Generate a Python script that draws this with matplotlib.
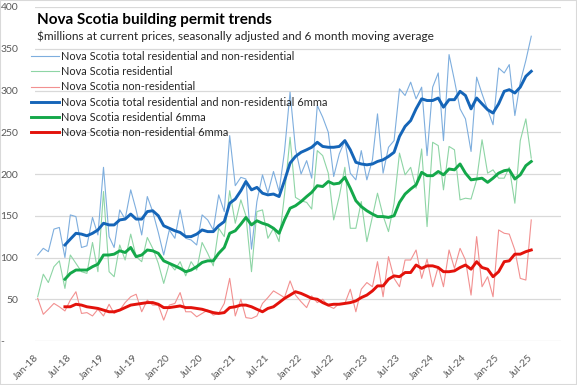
import numpy as np
import pandas as pd
import matplotlib
matplotlib.use("Agg")
import matplotlib.pyplot as plt
import matplotlib.dates as mdates
from matplotlib.patches import Rectangle

plt.rcParams['font.family'] = ['Lato', 'DejaVu Sans']

# monthly, Jan-2018 .. Jul-2025, $ millions
months = pd.date_range('2018-01-01', '2025-07-01', freq='MS')

total = [103, 111, 107, 134, 136, 100, 151, 149, 112, 114,
         148, 127, 208, 125, 112, 157, 146, 181, 157, 127,
         173, 155, 130, 103, 133, 123, 157, 123, 121, 115,
         151, 145, 133, 175, 155, 246, 186, 196, 194, 110,
         167, 199, 177, 203, 179, 227, 298, 230, 200, 216,
         195, 282, 268, 250, 197, 224, 240, 201, 193, 228,
         193, 217, 272, 201, 232, 240, 302, 294, 310, 290,
         304, 222, 304, 321, 240, 343, 312, 278, 266, 227,
         316, 296, 277, 259, 327, 321, 331, 270, 310, 336,
         365]

residential = [53, 80, 70, 89, 96, 63, 103, 93, 83, 81,
               118, 83, 179, 83, 77, 115, 97, 128, 101, 95,
               124, 111, 93, 69, 93, 85, 95, 78, 95, 85,
               118, 105, 90, 135, 125, 180, 141, 169, 150, 83,
               155, 157, 123, 135, 119, 175, 244, 172, 168, 166,
               158, 228, 222, 201, 145, 173, 208, 135, 135, 167,
               119, 149, 177, 150, 131, 165, 225, 199, 208, 183,
               230, 137, 238, 234, 181, 233, 229, 169, 171, 170,
               193, 241, 201, 205, 195, 195, 208, 165, 240, 266,
               219]

non_residential = [51, 32, 38, 45, 41, 36, 49, 59, 33, 34,
                   30, 38, 30, 44, 33, 37, 46, 53, 56, 35,
                   49, 43, 43, 25, 43, 45, 58, 35, 35, 29,
                   33, 37, 31, 33, 45, 75, 30, 50, 28, 27,
                   30, 45, 52, 60, 56, 52, 72, 55, 47, 40,
                   54, 46, 50, 42, 39, 45, 45, 62, 35, 62,
                   70, 65, 95, 53, 101, 75, 65, 97, 97, 109,
                   75, 98, 65, 89, 65, 109, 87, 111, 97, 55,
                   125, 65, 77, 53, 133, 129, 128, 109, 75, 73,
                   145]

# 6 month moving averages, first value at Jun-18
total_6mma = [np.nan] * 5 + [
    115, 122, 129, 128, 126,
    129, 133, 141, 139, 139, 145, 146, 152, 146, 146,
    155, 156, 150, 138, 135, 132, 130, 125, 125, 128,
    133, 131, 131, 138, 143, 165, 170, 180, 191, 181,
    184, 177, 175, 176, 173, 192, 213, 221, 226, 229,
    232, 238, 233, 232, 232, 233, 240, 229, 214, 212,
    211, 212, 215, 217, 221, 226, 245, 257, 264, 278,
    290, 288, 288, 291, 280, 289, 289, 299, 294, 278,
    291, 284, 277, 273, 284, 299, 301, 297, 304, 317,
    323]

residential_6mma = [np.nan] * 5 + [
    74, 81, 85, 85, 85,
    89, 92, 103, 103, 104, 108, 106, 112, 101, 103,
    109, 108, 105, 96, 93, 90, 87, 83, 85, 89,
    94, 96, 96, 105, 112, 129, 132, 140, 148, 139,
    144, 141, 139, 135, 129, 145, 159, 162, 167, 173,
    178, 186, 185, 191, 188, 189, 196, 183, 168, 161,
    156, 152, 149, 149, 148, 150, 166, 176, 182, 187,
    202, 198, 198, 203, 199, 206, 205, 212, 201, 193,
    194, 195, 190, 195, 201, 204, 205, 194, 199, 210,
    215]

non_residential_6mma = [np.nan] * 5 + [
    41, 41, 44, 43, 41,
    40, 39, 37, 35, 35, 37, 40, 43, 44, 45,
    46, 46, 44, 40, 40, 41, 42, 40, 40, 39,
    38, 36, 34, 33, 34, 40, 41, 43, 43, 41,
    38, 35, 39, 41, 46, 51, 55, 59, 57, 54,
    51, 50, 46, 43, 44, 44, 45, 46, 48, 52,
    55, 60, 66, 66, 74, 78, 77, 82, 82, 91,
    87, 90, 90, 88, 83, 83, 84, 88, 91, 86,
    95, 88, 86, 77, 83, 95, 96, 104, 104, 107,
    109]

fig = plt.figure(figsize=(5.77, 3.85), dpi=100)
ax = fig.add_axes([35 / 577, 44 / 385, 526 / 577, 334 / 385])

ax.plot(months, total, color='#7eaede', lw=0.8,
        label='Nova Scotia total residential and non-residential')
ax.plot(months, residential, color='#8ed5a5', lw=0.8,
        label='Nova Scotia residential')
ax.plot(months, non_residential, color='#f29090', lw=0.8,
        label='Nova Scotia non-residential')
ax.plot(months, total_6mma, color='#1565b8', lw=2.1,
        label='Nova Scotia total residential and non-residential 6mma')
ax.plot(months, residential_6mma, color='#14a84a', lw=2.1,
        label='Nova Scotia residential 6mma')
ax.plot(months, non_residential_6mma, color='#e3120b', lw=2.1,
        label='Nova Scotia non-residential 6mma')

ax.set_ylim(0, 400)
ax.set_yticks(range(0, 401, 50))
ax.set_yticklabels(['-     '] + [str(v) for v in range(50, 401, 50)])
ax.set_xlim(months[0] - pd.Timedelta(days=15), pd.Timestamp('2025-12-13'))
ax.set_xticks(months[::6])
ax.xaxis.set_major_formatter(mdates.DateFormatter('%b-%y'))

ax.grid(axis='y', color='#d9d9d9', lw=0.9)
ax.set_axisbelow(True)
for s in ax.spines.values():
    s.set_visible(False)
ax.tick_params(axis='both', length=0, labelsize=7.5, colors='#595959')
ax.tick_params(axis='y', pad=12)
ax.tick_params(axis='x', pad=11)
for lab in ax.get_xticklabels():
    lab.set_rotation(45)
    lab.set_ha('right')
    lab.set_va('center')
    lab.set_rotation_mode('anchor')

fig.text(37 / 577, 1 - 24 / 385, 'Nova Scotia building permit trends',
         fontsize=11, fontweight='bold', color='black', va='baseline')
fig.text(37 / 577, 1 - 40 / 385,
         '$millions at current prices, seasonally adjusted and 6 month moving average',
         fontsize=8.6, color='#262626', va='baseline')

leg = fig.legend(loc='upper left', bbox_to_anchor=(31 / 577, 1 - 51 / 385),
                 frameon=False, fontsize=7.95, handlelength=2.5,
                 handletextpad=0.2, labelspacing=0.38, borderpad=0,
                 borderaxespad=0)
for t in leg.get_texts():
    t.set_color('#262626')

fig.patches.append(Rectangle((0, 0), 1, 1, transform=fig.transFigure,
                             fill=False, ec='#d9d9d9', lw=1.5))

fig.savefig('out.png', dpi=100)
